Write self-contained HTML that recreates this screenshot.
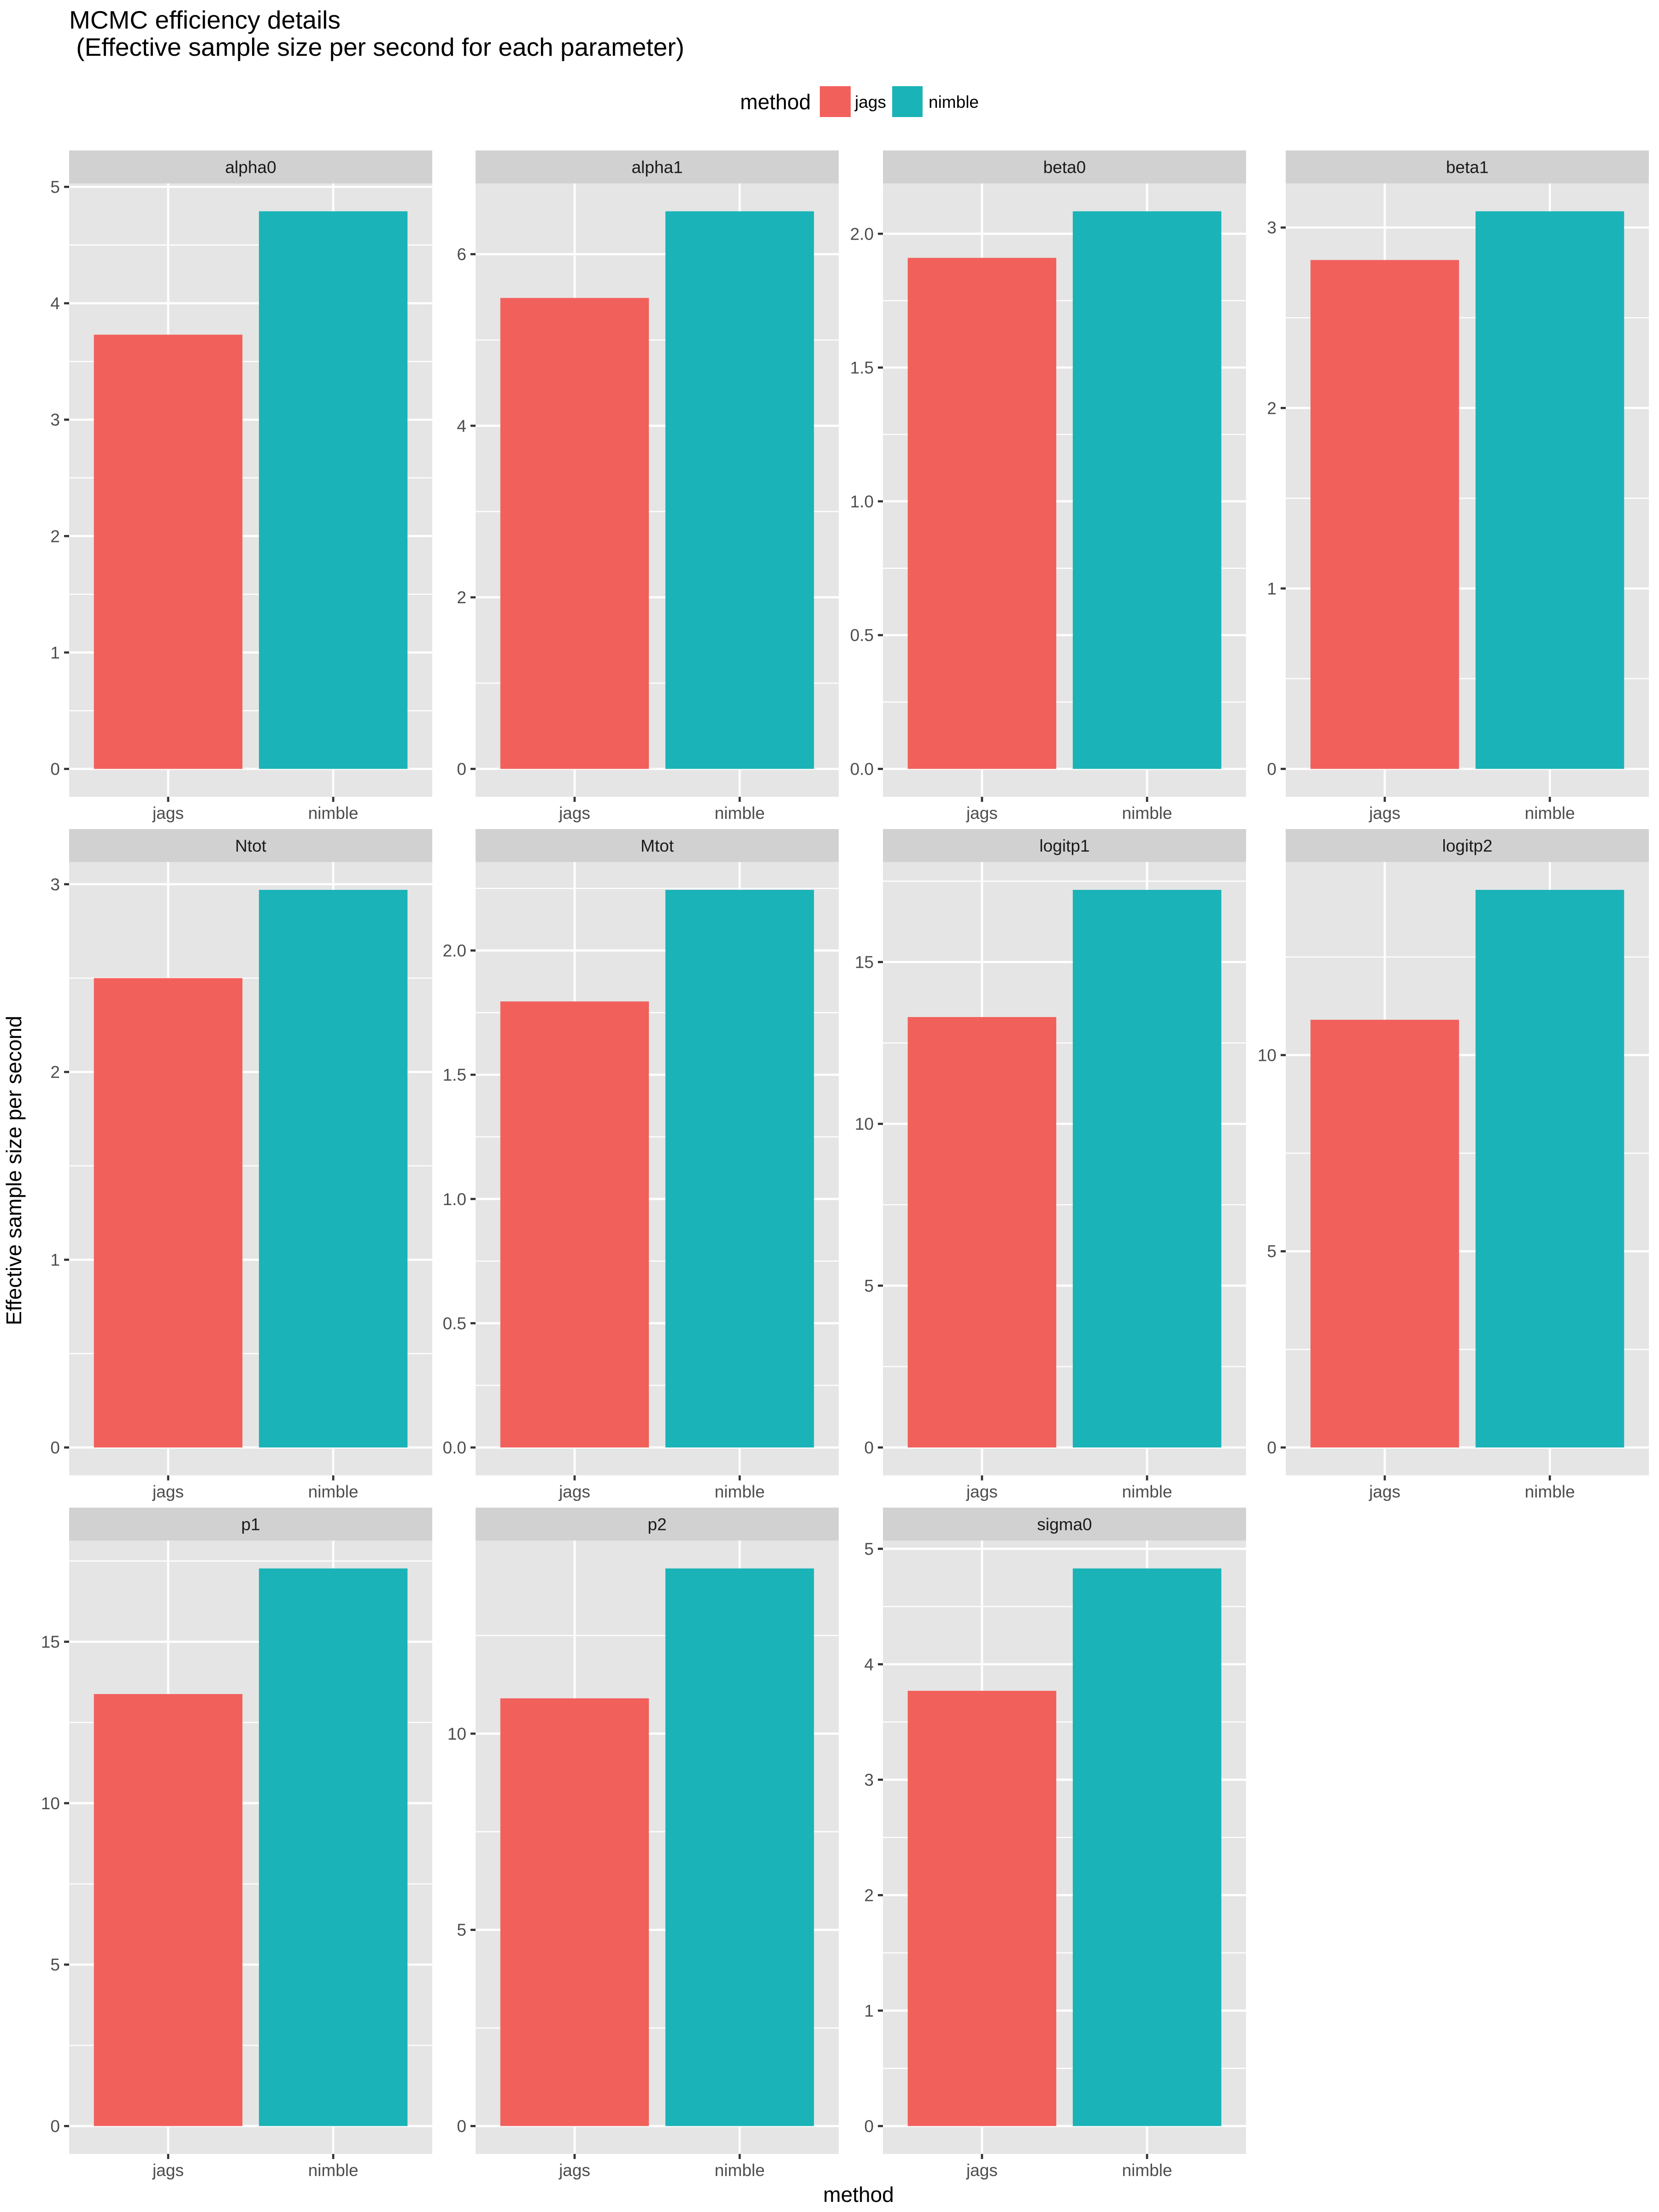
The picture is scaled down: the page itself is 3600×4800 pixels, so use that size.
<!DOCTYPE html>
<html>
<head>
<meta charset="utf-8">
<style>
  html, body { margin:0; padding:0; background:#fff; }
  svg { display:block; font-family:"Liberation Sans", Arial, sans-serif; }
</style>
</head>
<body>
<svg id="chart" width="3600" height="4800" viewBox="0 0 3600 4800" xmlns="http://www.w3.org/2000/svg">
  <rect x="0" y="0" width="3600" height="4800" fill="#ffffff"/>
  <text x="150" y="62" font-size="55" fill="#000">MCMC efficiency details</text>
  <text x="150" y="121" font-size="55" fill="#000" xml:space="preserve"> (Effective sample size per second for each parameter)</text>
  <g>
    <text x="1606" y="237" font-size="46" fill="#000">method</text>
    <rect x="1779" y="187" width="67" height="67" fill="#F2605C"/>
    <text x="1855" y="234" font-size="37" fill="#000">jags</text>
    <rect x="1936" y="187" width="66" height="67" fill="#1AB3B7"/>
    <text x="2015" y="234" font-size="37" fill="#000">nimble</text>
  </g>
  <text transform="translate(46,2540) rotate(-90)" text-anchor="middle" font-size="46" fill="#000">Effective sample size per second</text>
  <text x="1863" y="4778" text-anchor="middle" font-size="46" fill="#000">method</text>
  <g id="panels"></g>
</svg>
<script>
// ---- data ----
const categories = ["jags", "nimble"];
const params = ["alpha0","alpha1","beta0","beta1","Ntot","Mtot","logitp1","logitp2","p1","p2","sigma0"];
const jagsValues   = [3.73, 5.49, 1.91, 2.82, 2.50, 1.795, 13.30, 10.90, 13.38, 10.90, 3.77];
const nimbleValues = [4.79, 6.50, 2.084, 3.09, 2.97, 2.244, 17.23, 14.21, 17.27, 14.21, 4.83];
const tickStep     = [1, 2, 0.5, 1, 1, 0.5, 5, 5, 5, 5, 1];
const tickDecimals = [0, 0, 1, 0, 0, 1, 0, 0, 0, 0, 0];
const colors = ["#F2605C", "#1AB3B7"];

// ---- layout ----
const NS = "http://www.w3.org/2000/svg";
const colLeft = [150, 1032, 1916, 2790];
const rowTop = [326.5, 1799, 3271.5];
const panelW = 788, stripH = 71.5, panelH = 1331;
const root = document.getElementById("panels");

function mk(tag, attrs, parent) {
  const el = document.createElementNS(NS, tag);
  for (const k in attrs) el.setAttribute(k, attrs[k]);
  parent.appendChild(el);
  return el;
}

params.forEach(function(name, i) {
  const col = i % 4, row = Math.floor(i / 4);
  const px = colLeft[col], sy = rowTop[row], py = sy + stripH;
  const vals = [jagsValues[i], nimbleValues[i]];
  const maxV = Math.max(vals[0], vals[1]);
  const lo = -0.05 * maxV, hi = 1.05 * maxV;
  const yS = v => py + panelH - (v - lo) / (hi - lo) * panelH;
  const xS = k => px + (k + 1 - 0.4) / 2.2 * panelW;
  const bw = 0.9 / 2.2 * panelW;

  const g = mk("g", {}, root);
  
  

  const strip = mk("rect", {x: px, y: sy, width: panelW, height: stripH, fill: "#D1D1D1"}, g);
  
  
  const st = mk("text", {x: px + panelW / 2, y: sy + stripH / 2 + 13, "text-anchor": "middle", "font-size": 37, fill: "#1a1a1a"}, g);
  st.textContent = name;
  
  

  const bg = mk("rect", {x: px, y: py, width: panelW, height: panelH, fill: "#E5E5E5"}, g);
  
  

  const step = tickStep[i];
  const ticks = [];
  for (let t = 0; t <= hi + 1e-9; t += step) ticks.push(+t.toFixed(6));
  for (let m = -step / 2; m <= hi + step; m += step) {
    if (m < lo || m > hi) continue;
    const ml = mk("line", {x1: px, x2: px + panelW, y1: yS(m), y2: yS(m), stroke: "#fff", "stroke-width": 2.4}, g);
    
    
  }
  ticks.forEach(function(t) {
    const y = yS(t);
    const gl = mk("line", {x1: px, x2: px + panelW, y1: y, y2: y, stroke: "#fff", "stroke-width": 4.7}, g);
    
    
    const tk = mk("line", {x1: px - 11, x2: px, y1: y, y2: y, stroke: "#333", "stroke-width": 4.7}, g);
    
    
    const tl = mk("text", {x: px - 20, y: y + 13, "text-anchor": "end", "font-size": 37, fill: "#4d4d4d"}, g);
    tl.textContent = t.toFixed(tickDecimals[i]);
    
    
  });
  categories.forEach(function(c, k) {
    const x = xS(k);
    const vl = mk("line", {x1: x, x2: x, y1: py, y2: py + panelH, stroke: "#fff", "stroke-width": 4.7}, g);
    
    
  });
  categories.forEach(function(c, k) {
    const x = xS(k);
    const b = mk("rect", {x: x - bw / 2, y: yS(vals[k]), width: bw, height: yS(0) - yS(vals[k]), fill: colors[k]}, g);
    
    
    const tk = mk("line", {x1: x, x2: x, y1: py + panelH, y2: py + panelH + 11, stroke: "#333", "stroke-width": 4.7}, g);
    
    
    const tl = mk("text", {x: x, y: py + panelH + 48, "text-anchor": "middle", "font-size": 37, fill: "#4d4d4d"}, g);
    tl.textContent = c;
    
    
  });
});
</script>
</body>
</html>
